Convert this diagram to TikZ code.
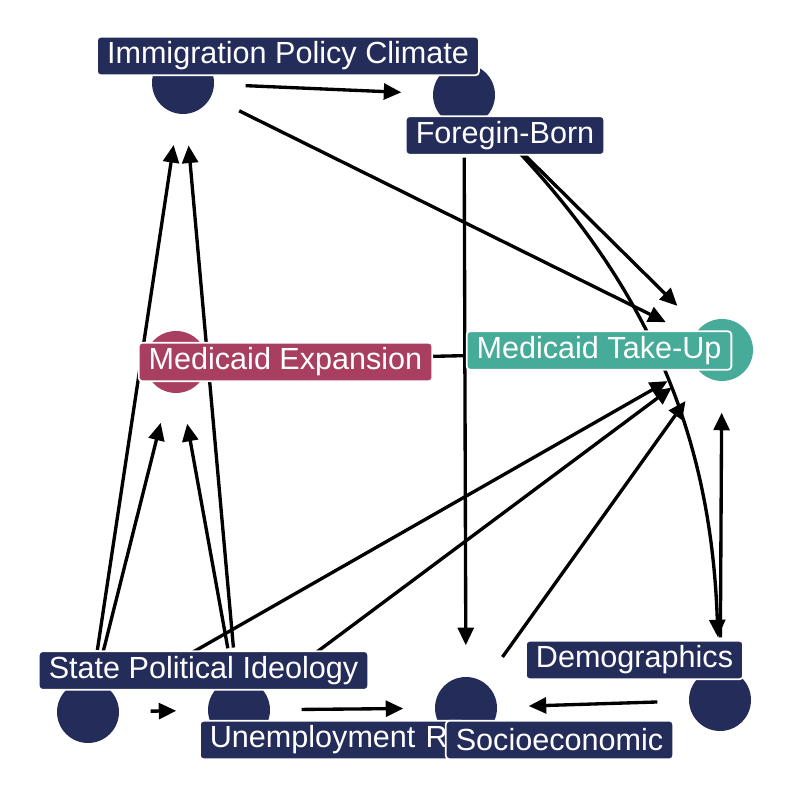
\documentclass[tikz,border=0pt]{standalone}
\usepackage{fontspec}
\setmainfont{Liberation Sans}
\usetikzlibrary{arrows.meta}

\definecolor{navy}{HTML}{242C5A}
\definecolor{berry}{HTML}{A83E60}
\definecolor{teal}{HTML}{47AB99}

\begin{document}
\begin{tikzpicture}[>={Triangle[length=5pt,width=4.5pt]}]
    \tikzstyle{dot}=[circle, fill=navy, minimum size=0.62cm, inner sep=0pt];
    \tikzstyle{lab}=[fill=navy, draw=white, line width=0.5pt, rounded corners=1pt, text=white, font=\fontsize{8.7}{10}\selectfont, minimum height=0.385cm, inner ysep=0pt, inner xsep=0.1cm];
    \tikzstyle{arc}=[->, line width=0.95pt, shorten >=0.31cm, shorten <=0.31cm];

    \useasboundingbox (0, 0) rectangle (8, 8);

    \node (ipc) at (1.83, 7.17) [dot] {};
    \node (fb) at (4.64, 7.05) [dot] {};

    \node (me) at (1.76, 4.38) [dot, fill=berry] {};
    \node (mtu) at (7.22, 4.50) [dot, fill=teal] {};

    \node (spi) at (0.88, 0.88) [dot] {};
    \node (ur) at (2.39, 0.90) [dot] {};
    \node (se) at (4.66, 0.92) [dot] {};
    \node (dem) at (7.20, 1.00) [dot] {};

    \draw (ipc) edge[arc] (fb);
    \draw (ipc) edge[arc] (mtu);

    \draw (fb) edge[arc] (mtu);
    \draw (fb) edge[arc] (se);
    \draw (fb) edge[arc, bend left=21] (dem);

    \draw (me) edge[arc] (mtu);

    \draw (spi) edge[arc] (ipc);
    \draw (spi) edge[arc] (me);
    \draw (spi) edge[arc] (mtu);
    \draw (spi) edge[arc] (ur);

    \draw (ur) edge[arc] (ipc);
    \draw (ur) edge[arc] (me);
    \draw (ur) edge[arc] (mtu);
    \draw (ur) edge[arc] (se);

    \draw (se) edge[arc] (mtu);
    \draw (dem) edge[arc] (mtu);
    \draw (dem) edge[arc] (se);

    % labels on top
    \node (ipcl) at (2.88, 7.44) [lab] {Immigration Policy Climate};
    \node (fbl) at (5.05, 6.645) [lab] {Foregin-Born};
    \node (mel) at (2.855, 4.38) [lab, fill=berry] {Medicaid Expansion};
    \node (mtul) at (5.99, 4.495) [lab, fill=teal] {Medicaid Take-Up};
    \node (spil) at (2.035, 1.295) [lab] {State Political Ideology};
    \node (url) at (1.99, 0.60) [lab, anchor=west, text width=2.45cm, align=left] {Unemployment R};
    \node (sel) at (5.595, 0.60) [lab] {Socioeconomic};
    \node (deml) at (6.345, 1.40) [lab] {Demographics};

\end{tikzpicture}
\end{document}
